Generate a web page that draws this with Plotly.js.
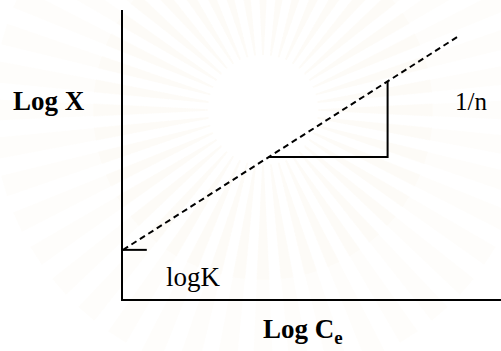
<!DOCTYPE html>
<html>
<head>
<meta charset="utf-8">
<script src="https://cdn.plot.ly/plotly-3.0.1.min.js"></script>
<style>
  html, body { margin: 0; padding: 0; background: #ffffff; }
  #chart { width: 501px; height: 351px; }
</style>
</head>
<body>
<div id="chart"></div>
<script>
// Freundlich isotherm sketch: log X against log Ce
const fitLogCe = [0, 8.92];          // dashed fitted line, x ends
const fitLogX = [1.70, 9.13];        // dashed fitted line, y ends
const slopeLogCe = [3.85, 7.0, 7.0]; // slope triangle (run then rise)
const slopeLogX = [4.91, 4.91, 7.53];
const interceptLogCe = [0, 0.63];    // marker at the intercept
const interceptLogX = [1.70, 1.70];

const labelSlope = '1/n';
const labelIntercept = 'logK';
const labelY = '<b>Log X</b>';
const labelX = '<b>Log C<sub>e</sub></b>';

const serif = 'Liberation Serif, Times New Roman, serif';

// plot-area geometry in pixels (used for the faint emblem behind the chart)
const M = { l: 123, r: 0, t: 10, b: 52 };
const W = 501, H = 351;
const pw = W - M.l - M.r, ph = H - M.t - M.b;
const px = v => (v - M.l) / pw;
const py = v => (H - M.b - v) / ph;

// faint sunburst emblem, rays fading outwards (two stacked lengths)
const shapes = [];
const cx = 263, cy = 110, r0 = 55, nRays = 44;
[[170, 0.035], [270, 0.035]].forEach(([r1, alpha]) => {
  for (let i = 0; i < nRays; i++) {
    const a = (i / nRays) * 2 * Math.PI;
    const da = Math.PI / nRays * 0.55;
    const p = [
      [cx + r0 * Math.cos(a - da * 0.4), cy + r0 * Math.sin(a - da * 0.4)],
      [cx + r1 * Math.cos(a - da), cy + r1 * Math.sin(a - da)],
      [cx + r1 * Math.cos(a + da), cy + r1 * Math.sin(a + da)],
      [cx + r0 * Math.cos(a + da * 0.4), cy + r0 * Math.sin(a + da * 0.4)]
    ];
    const path = 'M' + p.map(q => px(q[0]).toFixed(4) + ',' + py(q[1]).toFixed(4)).join(' L') + ' Z';
    shapes.push({
      type: 'path', xref: 'paper', yref: 'paper', path: path, layer: 'below',
      fillcolor: 'rgba(236,210,130,' + alpha + ')', line: { width: 0 }
    });
  }
});

const blackLine = { color: '#000000', width: 2 };

const traces = [
  {
    x: fitLogCe, y: fitLogX, mode: 'lines', type: 'scatter',
    line: { color: '#000000', width: 2, dash: '6px,4px' }, hoverinfo: 'skip'
  },
  {
    x: slopeLogCe, y: slopeLogX, mode: 'lines', type: 'scatter',
    line: blackLine, hoverinfo: 'skip'
  },
  {
    x: interceptLogCe, y: interceptLogX, mode: 'lines', type: 'scatter',
    line: blackLine, hoverinfo: 'skip'
  }
];

const axisBase = {
  range: [0, 10], showgrid: false, zeroline: false, showticklabels: false,
  ticks: '', showline: true, linecolor: '#000000', linewidth: 2, fixedrange: true
};

const layout = {
  width: W, height: H,
  margin: M,
  paper_bgcolor: '#ffffff', plot_bgcolor: 'rgba(0,0,0,0)',
  showlegend: false,
  xaxis: Object.assign({}, axisBase),
  yaxis: Object.assign({}, axisBase),
  shapes: shapes,
  annotations: [
    { text: labelY, xref: 'paper', yref: 'paper', x: px(48.5), y: py(101),
      xanchor: 'center', yanchor: 'middle', showarrow: false,
      font: { family: serif, size: 27, color: '#000000' } },
    { text: labelX, xref: 'paper', yref: 'paper', x: px(302.5), y: py(331),
      xanchor: 'center', yanchor: 'middle', showarrow: false,
      font: { family: serif, size: 27, color: '#000000' } },
    { text: labelSlope, xref: 'x', yref: 'y', x: 9.21, y: 6.85,
      xanchor: 'center', yanchor: 'middle', showarrow: false,
      font: { family: serif, size: 25, color: '#000000' } },
    { text: labelIntercept, xref: 'x', yref: 'y', x: 1.86, y: 0.76,
      xanchor: 'center', yanchor: 'middle', showarrow: false,
      font: { family: serif, size: 27, color: '#000000' } }
  ]
};

Plotly.newPlot('chart', traces, layout, { staticPlot: true, displayModeBar: false });
</script>
</body>
</html>
